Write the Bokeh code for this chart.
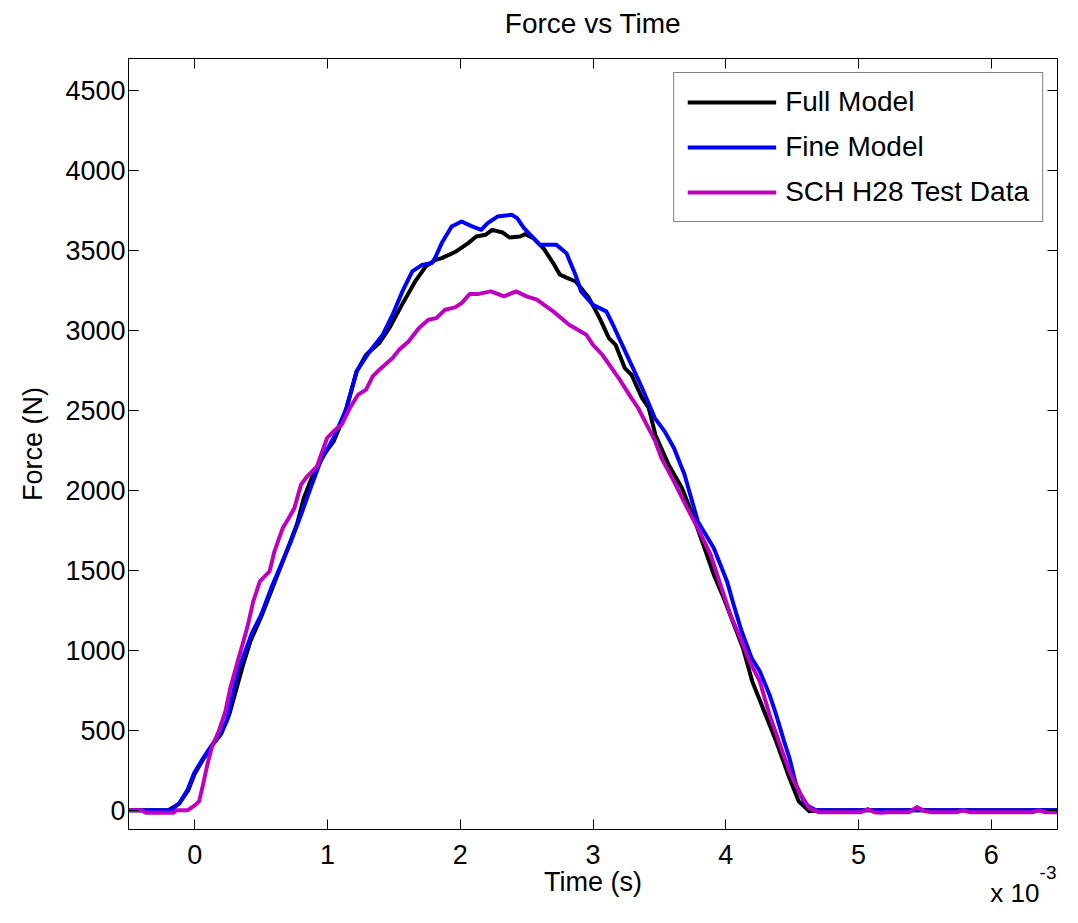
from bokeh.plotting import figure
from bokeh.models import Range1d, LinearAxis, FixedTicker, Legend, LegendItem, Title
from bokeh.embed import file_html
from bokeh.resources import INLINE

# ---- data (time in units of 1e-3 s, force in N) ----
full_t = [-0.5, -0.2, -0.12, -0.05, 0.0, 0.06, 0.13, 0.2, 0.26, 0.3, 0.36, 0.42, 0.5, 0.58, 0.65,
          0.72, 0.77, 0.82, 0.88, 0.97, 1.045, 1.12, 1.22, 1.29, 1.39, 1.465, 1.56, 1.66, 1.74, 1.81,
          1.86, 1.96, 2.06, 2.12, 2.19, 2.24, 2.32, 2.37, 2.45, 2.49, 2.55, 2.63, 2.70, 2.75, 2.80,
          2.87, 2.97, 3.05, 3.12, 3.17, 3.24, 3.29, 3.37, 3.42, 3.47, 3.57, 3.67, 3.76, 3.84, 3.91,
          3.985, 4.13, 4.2, 4.28, 4.38, 4.48, 4.55, 4.63, 4.7, 6.5]
full_f = [0, 0, 40, 125, 230, 315, 405, 480, 600, 720, 900, 1060, 1210, 1380, 1530,
          1680, 1790, 1950, 2077, 2223, 2306, 2452, 2744, 2848, 2921, 3014, 3160, 3306, 3400, 3440,
          3452, 3490, 3546, 3587, 3598, 3629, 3612, 3581, 3587, 3602, 3577, 3510, 3421, 3350, 3330,
          3306, 3202, 3077, 2952, 2910, 2764, 2723, 2577, 2515, 2348, 2160, 2015, 1827, 1640, 1473,
          1327, 1015, 806, 640, 431, 202, 56, -6, 0, 0]

fine_t = [-0.5, -0.18, -0.116, -0.055, -0.005, 0.056, 0.13, 0.17, 0.24, 0.28, 0.33, 0.38, 0.43, 0.5,
          0.575, 0.65, 0.724, 0.8, 0.872, 0.946, 1.045, 1.144, 1.218, 1.317, 1.416, 1.49, 1.564,
          1.638, 1.712, 1.786, 1.81, 1.86, 1.935, 2.01, 2.08, 2.157, 2.206, 2.28, 2.39, 2.43, 2.48,
          2.6, 2.725, 2.8, 2.873, 2.91, 3.0, 3.1, 3.145, 3.22, 3.29, 3.37, 3.466, 3.54, 3.61, 3.69,
          3.79, 3.91, 4.01, 4.06, 4.12, 4.195, 4.257, 4.33, 4.38, 4.44, 4.48, 4.53, 4.6, 4.68, 6.5]
fine_f = [0, 0, 46, 129, 233, 317, 410, 452, 556, 702, 889, 994, 1108, 1223,
          1389, 1535, 1681, 1848, 2015, 2181, 2327, 2515, 2744, 2869, 2973, 3098, 3244,
          3369, 3410, 3421, 3452, 3546, 3650, 3681, 3654, 3629, 3671, 3712, 3723, 3700, 3639,
          3535, 3535, 3483, 3337, 3244, 3160, 3119, 3045, 2910, 2785, 2640, 2452, 2369, 2265, 2098,
          1806, 1640, 1431, 1285, 1119, 952, 869, 723, 598, 431, 327, 160, 36, 0, 0]

test_t = [-0.5, -0.4, -0.37, -0.16, -0.14, -0.055, 0.007, 0.032, 0.056, 0.094, 0.13, 0.18, 0.23,
          0.267, 0.316, 0.366, 0.4, 0.44, 0.49, 0.563, 0.6, 0.662, 0.7, 0.75, 0.8, 0.847, 0.92,
          0.996, 1.045, 1.107, 1.168, 1.23, 1.29, 1.34, 1.39, 1.49, 1.54, 1.61, 1.687, 1.76, 1.82,
          1.885, 1.96, 2.01, 2.07, 2.13, 2.23, 2.33, 2.42, 2.5, 2.577, 2.7, 2.82, 2.95, 3.0, 3.07,
          3.195, 3.29, 3.34, 3.47, 3.516, 3.61, 3.71, 3.79, 3.886, 3.985, 4.035, 4.11, 4.18, 4.257,
          4.33, 4.4, 4.48, 4.55, 4.63, 4.7, 5.02, 5.07, 5.12, 5.17, 5.22, 5.38, 5.44, 5.5, 5.55,
          5.74, 5.79, 5.84, 6.31, 6.36, 6.41, 6.5]
test_f = [0, 0, -15, -15, 0, 0, 36, 56, 139, 285, 400, 494, 619,
          764, 911, 1056, 1160, 1306, 1431, 1494, 1619, 1764, 1817, 1889, 2036, 2088, 2150,
          2327, 2369, 2411, 2515, 2598, 2630, 2713, 2754, 2827, 2880, 2931, 3014, 3067, 3077,
          3129, 3144, 3171, 3227, 3227, 3244, 3213, 3244, 3213, 3192, 3119, 3035, 2973, 2910, 2848,
          2700, 2577, 2515, 2306, 2202, 2056, 1889, 1764, 1598, 1348, 1223, 1077, 931, 806,
          598, 431, 244, 119, 14, -12, -12, 8, -12, -15, -12, -12, 20, -5, -12,
          -12, 0, -12, -12, 0, -12, -12]

series_names = ["Full Model", "Fine Model", "SCH H28 Test Data"]
series_colors = ["#000000", "#0000FF", "#BF00BF"]
x_ticks = [0, 1, 2, 3, 4, 5, 6]
y_ticks = [0, 500, 1000, 1500, 2000, 2500, 3000, 3500, 4000, 4500]

FONT = "Liberation Sans"

p = figure(width=1062, height=907, output_backend="svg", toolbar_location=None,
           x_range=Range1d(-0.5, 6.5), y_range=Range1d(-120, 4700),
           min_border_left=128, min_border_right=5, min_border_top=58, min_border_bottom=78)
p.background_fill_color = "white"
p.border_fill_color = "white"
p.outline_line_color = "black"
p.outline_line_width = 1
p.grid.visible = False

def style_axis(ax, labels=True):
    ax.axis_line_color = "black"
    ax.axis_line_width = 1
    ax.major_tick_in = 10
    ax.major_tick_out = 0
    ax.minor_tick_in = 0
    ax.minor_tick_out = 0
    ax.major_tick_line_color = "black"
    ax.major_label_text_font = FONT
    ax.major_label_text_color = "black"
    if labels:
        ax.major_label_text_font_size = "27px"
    else:
        ax.major_label_text_font_size = "0px"
        ax.major_label_text_alpha = 0

xa = p.xaxis[0]
ya = p.yaxis[0]
xa.ticker = FixedTicker(ticks=x_ticks)
ya.ticker = FixedTicker(ticks=y_ticks)
style_axis(xa)
style_axis(ya)
xa.major_label_standoff = 15
ya.major_label_standoff = 3
xa.axis_label = "Time (s)"
ya.axis_label = "Force (N)"
for ax in (xa, ya):
    ax.axis_label_text_font = FONT
    ax.axis_label_text_font_size = "27px"
    ax.axis_label_text_font_style = "normal"
    ax.axis_label_text_color = "black"
xa.axis_label_standoff = 0
ya.axis_label_standoff = 14

# mirrored top / right axes (MATLAB box); the top one carries the chart title
top_ax = LinearAxis(ticker=FixedTicker(ticks=x_ticks))
right_ax = LinearAxis(ticker=FixedTicker(ticks=y_ticks))
style_axis(top_ax, labels=False)
style_axis(right_ax, labels=False)
top_ax.axis_label = "Force vs Time"
top_ax.axis_label_text_font = FONT
top_ax.axis_label_text_font_size = "28px"
top_ax.axis_label_text_font_style = "normal"
top_ax.axis_label_text_color = "black"
top_ax.axis_label_standoff = 20
p.add_layout(top_ax, "above")
p.add_layout(right_ax, "right")

# exponent note "x 10^-3" under the right end of the x axis
note_base = Title(text="x 10", align="right", offset=18, vertical_align="top",
                  text_font=FONT, text_font_size="26px", text_font_style="normal",
                  text_color="black", standoff=-44)
note_exp = Title(text="-3", align="right", offset=1, vertical_align="top",
                 text_font=FONT, text_font_size="19px", text_font_style="normal",
                 text_color="black", standoff=-68)
p.add_layout(note_base, "below")
p.add_layout(note_exp, "below")

renderers = []
for t, f, c in zip([full_t, fine_t, test_t], [full_f, fine_f, test_f], series_colors):
    r = p.line(t, f, line_color=c, line_width=4, line_join="round")
    renderers.append(r)

legend = Legend(items=[LegendItem(label=n, renderers=[r]) for n, r in zip(series_names, renderers)],
                location="top_right")
legend.label_text_font = FONT
legend.label_text_font_size = "28px"
legend.label_text_color = "black"
legend.glyph_width = 89
legend.glyph_height = 30
legend.label_height = 30
legend.label_standoff = 9
legend.spacing = 13
legend.padding = 13
legend.margin = 14
legend.border_line_color = "black"
legend.border_line_width = 1
legend.background_fill_color = "white"
legend.background_fill_alpha = 1
p.add_layout(legend)

open("out.html", "w").write(file_html(p, INLINE))
